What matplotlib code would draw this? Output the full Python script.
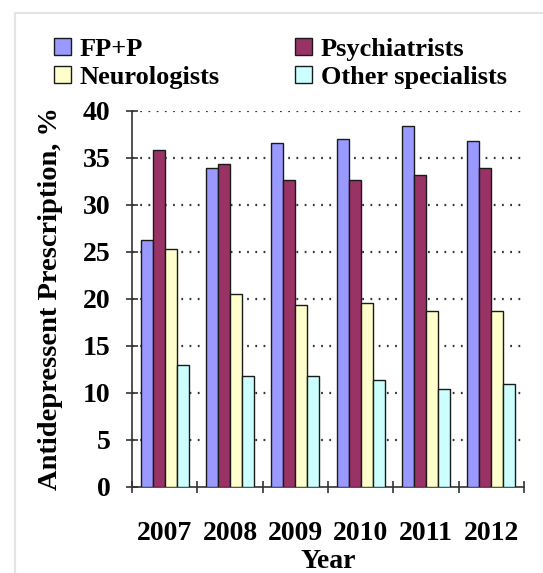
import matplotlib
matplotlib.use("Agg")
import matplotlib.pyplot as plt
import numpy as np
from matplotlib.lines import Line2D

years = ["2007", "2008", "2009", "2010", "2011", "2012"]
series_names = ["FP+P", "Psychiatrists", "Neurologists", "Other specialists"]
fpp = [26.2, 33.9, 36.6, 37.0, 38.4, 36.8]
psychiatrists = [35.8, 34.3, 32.6, 32.6, 33.2, 33.9]
neurologists = [25.3, 20.5, 19.3, 19.5, 18.7, 18.7]
other = [12.9, 11.8, 11.8, 11.3, 10.4, 10.9]
colors = ["#9999FF", "#993366", "#FFFFCC", "#CCFFFF"]
yticks = [0, 5, 10, 15, 20, 25, 30, 35, 40]

plt.rcParams['font.family'] = ['Liberation Serif', 'DejaVu Serif']
plt.rcParams['font.weight'] = 'bold'

fig = plt.figure(figsize=(5.43, 5.73), dpi=100)
ax = fig.add_axes([0.2431, 0.1506, 0.7219, 0.6562])

data = [fpp, psychiatrists, neurologists, other]
n = len(years)
bw = 0.183
start = 0.135
x = np.arange(n)
handles = []
for k, (vals, c, name) in enumerate(zip(data, colors, series_names)):
    h = ax.bar(x + start + k * bw, vals, width=bw, align='edge', color=c,
               edgecolor='#1a1a1a', linewidth=1.0, label=name, zorder=3)
    handles.append(h)

ax.set_xlim(0, n)
ax.set_ylim(0, 40)
ax.set_yticks(yticks)
ax.set_yticklabels([str(t) for t in yticks], fontsize=20, fontweight='bold')
ax.set_xticks(x + 0.5)
ax.set_xticklabels(years, fontsize=20, fontweight='bold')
ax.tick_params(axis='x', which='major', length=0, pad=25)
ax.set_xticks(np.arange(n + 1), minor=True)
ax.tick_params(axis='x', which='minor', direction='inout', length=9, width=1.2, color='#333333')
ax.tick_params(axis='y', direction='inout', length=9, width=1.2, color='#333333', pad=11)

for v in yticks[1:]:
    ax.axhline(v, color='#333333', linestyle=(0, (0.8, 2.9)), linewidth=1.6, zorder=1)

for s in ['top', 'right']:
    ax.spines[s].set_visible(False)
for s in ['left', 'bottom']:
    ax.spines[s].set_color('#333333')
    ax.spines[s].set_linewidth(1.2)

ax.set_ylabel("Antidepressent Prescription, %", fontsize=20.5, fontweight='bold', labelpad=14)
ax.set_xlabel("Year", fontsize=20, fontweight='bold', labelpad=2)

order = [0, 2, 1, 3]
leg = fig.legend(handles=[handles[i] for i in order],
                 labels=[series_names[i] for i in order], loc='upper left',
                 bbox_to_anchor=(0.1, 0.934), ncol=2, frameon=False,
                 borderpad=0, borderaxespad=0,
                 prop={'family': 'Liberation Serif', 'weight': 'bold', 'size': 19},
                 handlelength=0.62, handleheight=0.62, handletextpad=0.35,
                 columnspacing=2.85, labelspacing=0.19)

fig.add_artist(Line2D([0.027, 0.027], [0.0, 0.978], transform=fig.transFigure,
                      color='#e4e4e4', linewidth=1.5))
fig.add_artist(Line2D([0.027, 1.0], [0.978, 0.978], transform=fig.transFigure,
                      color='#e4e4e4', linewidth=1.5))

fig.savefig("out.png", dpi=100)
